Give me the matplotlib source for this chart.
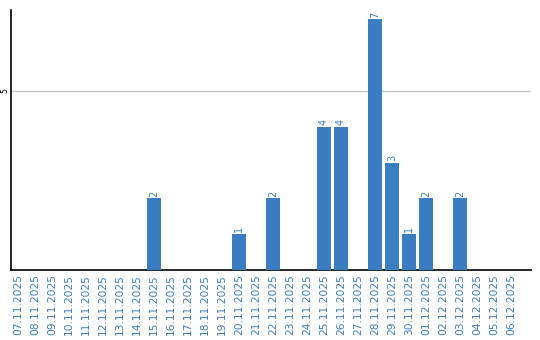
import matplotlib
matplotlib.use("Agg")
import matplotlib.pyplot as plt

dates = ["07.11.2025", "08.11.2025", "09.11.2025", "10.11.2025", "11.11.2025",
         "12.11.2025", "13.11.2025", "14.11.2025", "15.11.2025", "16.11.2025",
         "17.11.2025", "18.11.2025", "19.11.2025", "20.11.2025", "21.11.2025",
         "22.11.2025", "23.11.2025", "24.11.2025", "25.11.2025", "26.11.2025",
         "27.11.2025", "28.11.2025", "29.11.2025", "30.11.2025", "01.12.2025",
         "02.12.2025", "03.12.2025", "04.12.2025", "05.12.2025", "06.12.2025"]
values = [0, 0, 0, 0, 0, 0, 0, 0, 2, 0, 0, 0, 0, 1, 0,
          2, 0, 0, 4, 4, 0, 7, 3, 1, 2, 0, 2, 0, 0, 0]

blue = "#3b7dc1"
fig = plt.figure(figsize=(5.4, 3.4), dpi=100)
ax = fig.add_axes([11/540, 1 - 270/340, 520/540, 260/340])

x = list(range(len(dates)))
bars = ax.bar(x, values, width=0.82, color=blue, zorder=3)
for xi, v in zip(x, values):
    if v > 0:
        ax.text(xi, v + 0.05, str(v), rotation=90, ha="center", va="bottom",
                color=blue, fontsize=7)

ax.set_xlim(-0.41, 30.18)
ax.set_ylim(0, 7.26)
ax.set_yticks([5])
ax.set_yticklabels(["5"], rotation=90, va="center", fontsize=5.5)
ax.yaxis.grid(True, color="#c8c8c8", linewidth=1, zorder=0)
ax.set_xticks(x)
ax.set_xticklabels(dates, rotation=90, color=blue, fontsize=7.7)
ax.tick_params(axis="x", length=0, pad=3)
ax.tick_params(axis="y", length=0, pad=1)
for s in ["top", "right"]:
    ax.spines[s].set_visible(False)
ax.spines["left"].set_color("black")
ax.spines["bottom"].set_color("black")
ax.spines["left"].set_linewidth(1.2)
ax.spines["bottom"].set_linewidth(1.2)

fig.savefig("out.png", dpi=100)
